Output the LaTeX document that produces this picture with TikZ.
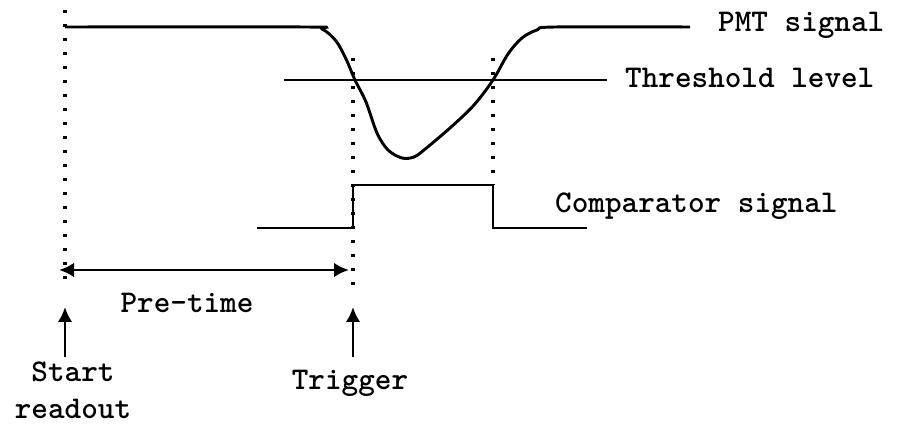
\documentclass[tikz,border=0pt]{standalone}
\usepackage{fontspec}
\usetikzlibrary{arrows.meta}
\definecolor{darkline}{HTML}{000000}
\tikzset{
  signal/.style={draw=darkline, line width=2.5pt},
  marker/.style={draw=darkline, line width=2.8pt, dash pattern=on 0.9mm off 3.3mm},
  flow/.style={-{Latex[length=4.5mm, width=4.4mm]}, line width=2.5pt, draw=darkline},
  span/.style={{Latex[length=4.5mm, width=4.4mm]}-{Latex[length=4.5mm, width=4.4mm]}, line width=2.5pt, draw=darkline},
  tag/.style={inner sep=0pt, font=\fontsize{27}{30}\ttfamily\bfseries, text=darkline}
}

\begin{document}
\begin{tikzpicture}[x=0.3mm, y=-0.3mm]
\useasboundingbox (0,0) rectangle (898,424);

% time marks
\coordinate (s-top) at (65,10);
\coordinate (s-bot) at (65,287);
\coordinate (t-top) at (353,58);
\coordinate (t-bot) at (353,292);
\coordinate (e-top) at (493,58);
\coordinate (e-bot) at (493,185);

\draw[marker] (s-top) -- (s-bot);
\draw[marker] (t-top) -- (t-bot);
\draw[marker] (e-top) -- (e-bot);

% PMT signal
\coordinate (pmt-a) at (65,27);
\coordinate (pmt-b) at (690,27);
\draw[signal] plot[smooth, tension=0.55] coordinates {(pmt-a) (305,27) (322,29) (336,41) (346,59) (355,80) (366,102) (377,133) (388,150) (402,158) (414,157) (424,150) (450,128) (474,105) (493,80) (508,54) (522,38) (537,30) (555,27) (pmt-b)};
\node[tag, anchor=base west] (pmt) at (718,32) {PMT signal};

% threshold
\coordinate (thr-a) at (284,80);
\coordinate (thr-b) at (607,80);
\draw[signal] (thr-a) -- (thr-b);
\node[tag, anchor=base west] (threshold) at (625,88) {Threshold level};

% comparator
\coordinate (cmp-a) at (257,228);
\coordinate (cmp-b) at (587,228);
\draw[signal] (cmp-a) -- (t-top |- cmp-a) -- (t-top |- e-bot) -- (e-bot) -- (e-bot |- cmp-b) -- (cmp-b);
\node[tag, anchor=base west] (comparator) at (555,213) {Comparator signal};

% pre-time
\coordinate (pre-a) at (59,270);
\coordinate (pre-b) at (349,270);
\draw[span] (pre-a) -- (pre-b);
\node[tag, anchor=base] (pretime) at (187,313) {Pre-time};

% start readout and trigger
\coordinate (start-tip) at (65,307);
\coordinate (start-tail) at (65,357);
\coordinate (trig-tip) at (353,307);
\coordinate (trig-tail) at (353,357);
\node[tag, anchor=base, align=center] (start) at (73,418) {Start\\[1pt]readout};
\node[tag, anchor=base] (trigger) at (350,390) {Trigger};
\draw[flow] (start-tail) -- (start-tip);
\draw[flow] (trig-tail) -- (trig-tip);

\end{tikzpicture}
\end{document}
